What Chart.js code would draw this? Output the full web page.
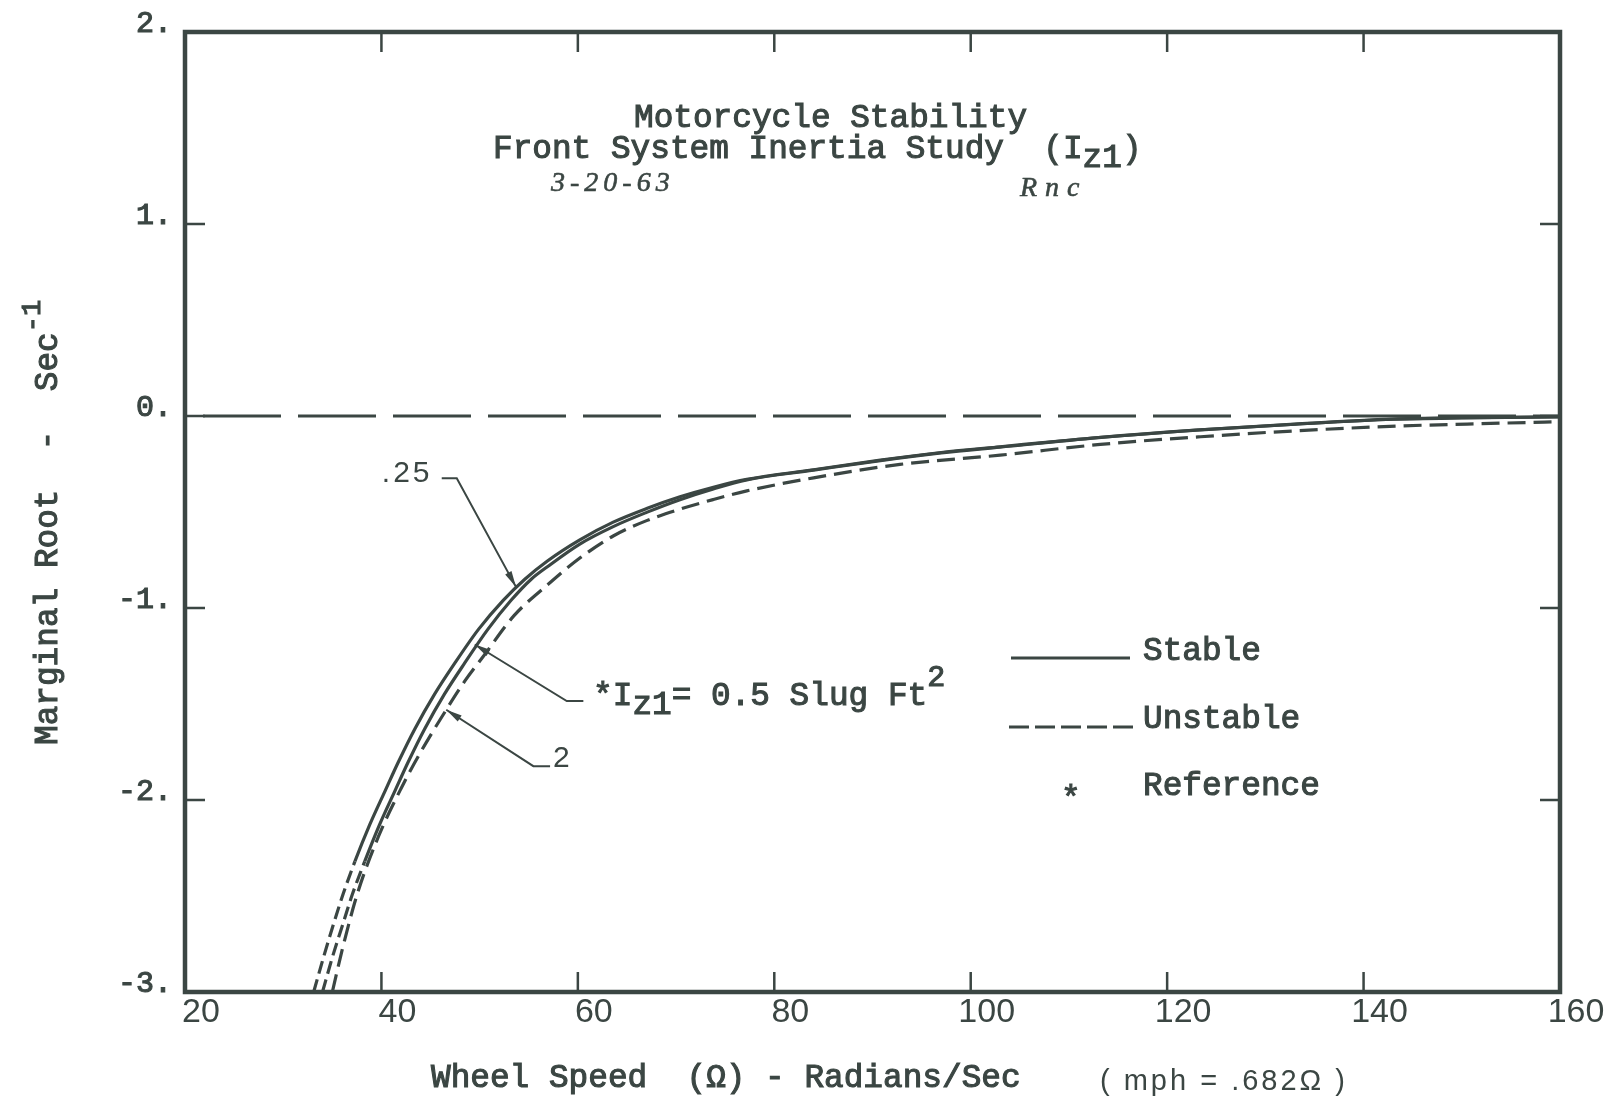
<!DOCTYPE html>
<html lang="en">
<head>
<meta charset="utf-8">
<title>Motorcycle Stability – Front System Inertia Study</title>
<script src="https://cdn.jsdelivr.net/npm/chart.js@4/dist/chart.umd.min.js"></script>
<style>
  html, body { margin: 0; padding: 0; background: #ffffff; }
  canvas { display: block; }
</style>
</head>
<body>
<canvas id="stability" width="1616" height="1099"></canvas>
<script>
// Marginal root (1/sec) against wheel speed (rad/sec) for three front-system inertias I_z1.

// I_z1 = .25 slug ft^2
const speedLight = [33.1, 34.1, 35.1, 36.1, 37.3, 38.8, 40.4, 41.7, 43.4, 45.4, 47.5, 49.9, 52.4, 54.6, 56.9,
  60.2, 63.6, 67.0, 70.4, 73.8, 77.2, 84.0, 90.8, 97.0, 103.0, 113.0, 123.0, 133.0, 143.0, 150.0, 160.0];
const rootLight = [-3.00, -2.82, -2.65, -2.49, -2.32, -2.13, -1.95, -1.805, -1.63, -1.45, -1.285, -1.11, -0.96, -0.85, -0.755,
  -0.645, -0.553, -0.482, -0.421, -0.371, -0.33, -0.28, -0.23, -0.19, -0.16, -0.112, -0.073, -0.042, -0.016, -0.009, -0.004];

// I_z1 = 0.5 slug ft^2 (reference)
const speedRef = [34.0, 35.0, 36.05, 37.05, 38.3, 39.8, 41.4, 42.7, 44.4, 46.4, 48.5, 50.85, 53.2, 55.25, 56.9,
  60.2, 63.6, 67.0, 70.4, 73.8, 77.2, 84.0, 90.8, 97.0, 103.0, 113.0, 123.0, 133.0, 143.0, 150.0, 160.0];
const rootRef = [-3.00, -2.82, -2.65, -2.49, -2.32, -2.13, -1.95, -1.805, -1.63, -1.45, -1.285, -1.11, -0.96, -0.85, -0.785,
  -0.667, -0.576, -0.502, -0.436, -0.380, -0.333, -0.282, -0.232, -0.192, -0.162, -0.113, -0.074, -0.043, -0.017, -0.010, -0.005];

// I_z1 = 2 slug ft^2
const speedHeavy = [35.0, 36.1, 37.6, 39.7, 42.0, 44.0, 46.6, 48.5, 50.4, 53.5, 56.9, 60.2, 63.6, 67.0, 70.4,
  73.8, 77.2, 84.0, 92.8, 103.0, 113.2, 123.4, 133.5, 143.7, 152.0, 160.0];
const rootHeavy = [-3.00, -2.76, -2.48, -2.19, -1.94, -1.75, -1.53, -1.38, -1.25, -1.04, -0.88, -0.74, -0.625, -0.545, -0.485,
  -0.435, -0.39, -0.322, -0.252, -0.204, -0.148, -0.108, -0.076, -0.052, -0.040, -0.030];

// neutral-stability line
const speedZero = [20, 160];
const rootZero = [0, 0];

const speedTicks = [20, 40, 60, 80, 100, 120, 140, 160];
const rootTicks = [2, 1, 0, -1, -2, -3];
const rootTickLabels = ['2.', '1.', '0.', '-1.', '-2.', '-3.'];

// below this root the .25 and 0.5 branches are unstable
const stableLimit = -2.3;

// ---------------------------------------------------------------- styling
const ink = '#3b4643';
const typeFace = '"Liberation Mono", "DejaVu Sans Mono", monospace';
const letterFace = '"Liberation Sans", "DejaVu Sans", sans-serif';
const handFace = '"Liberation Serif", "DejaVu Serif", serif';
const typeFont = size => `${size}px ${typeFace}`;
const letterFont = size => `${size}px ${letterFace}`;
const handFont = size => `italic ${size}px ${handFace}`;

const curveWidth = 3.2;
const unstableDash = [13, 6];
const heavyDash = [18, 8];
const tickLen = 20;
const typeInk = 1.1;   // extra stroke that gives the typed glyphs their weight

// leaders from the inertia labels to their curves (value coordinates)
const callouts = [
  { tip: [53.7, -0.89], bend: [47.67, -0.324], end: [46.14, -0.324] },
  { tip: [49.5, -1.19], bend: [58.87, -1.485], end: [60.56, -1.485] },
  { tip: [46.6, -1.53], bend: [55.47, -1.824], end: [57.17, -1.824] }
];

const toPoints = (xs, ys) => xs.map((v, i) => ({ x: v, y: ys[i] }));
const isUnstable = ctx => Math.max(ctx.p0.parsed.y, ctx.p1.parsed.y) <= stableLimit + 1e-9;

function drawRuns(ctx, runs, x, y) {
  ctx.textAlign = 'left';
  ctx.textBaseline = 'alphabetic';
  let cx = x;
  for (const r of runs) {
    ctx.font = r.font;
    ctx.letterSpacing = r.spacing || '0px';
    ctx.fillText(r.t, cx, y + (r.dy || 0));
    if (r.weight) {
      ctx.lineWidth = r.weight;
      ctx.strokeText(r.t, cx, y + (r.dy || 0));
    }
    cx += ctx.measureText(r.t).width;
  }
  ctx.letterSpacing = '0px';
}

function arrowHead(ctx, from, to) {
  const a = Math.atan2(to[1] - from[1], to[0] - from[0]);
  const len = 16, half = 3.6;
  const bx = to[0] - len * Math.cos(a), by = to[1] - len * Math.sin(a);
  ctx.beginPath();
  ctx.moveTo(to[0], to[1]);
  ctx.lineTo(bx + half * Math.sin(a), by - half * Math.cos(a));
  ctx.lineTo(bx - half * Math.sin(a), by + half * Math.cos(a));
  ctx.closePath();
  ctx.fill();
}

const T = (t, extra) => Object.assign({ t, font: typeFont(32.75), weight: typeInk }, extra || {});

const paperPlugin = {
  id: 'paper',
  afterDatasetsDraw(chart) {
    const { ctx, chartArea: a, scales: { x, y } } = chart;
    const P = v => [x.getPixelForValue(v[0]), y.getPixelForValue(v[1])];
    ctx.save();
    ctx.strokeStyle = ink;
    ctx.fillStyle = ink;
    ctx.lineCap = 'butt';

    // inward tick marks on all four sides
    ctx.lineWidth = 2.5;
    ctx.beginPath();
    speedTicks.slice(1, -1).forEach(v => {
      const p = x.getPixelForValue(v);
      ctx.moveTo(p, a.bottom); ctx.lineTo(p, a.bottom - tickLen);
      ctx.moveTo(p, a.top); ctx.lineTo(p, a.top + tickLen);
    });
    rootTicks.slice(1, -1).forEach(v => {
      const p = y.getPixelForValue(v);
      ctx.moveTo(a.left, p); ctx.lineTo(a.left + tickLen, p);
      ctx.moveTo(a.right, p); ctx.lineTo(a.right - tickLen, p);
    });
    ctx.stroke();

    // plot frame
    ctx.lineWidth = 4.5;
    ctx.strokeRect(a.left, a.top, a.right - a.left, a.bottom - a.top);

    // leaders with arrow heads
    ctx.lineWidth = 2;
    callouts.forEach(c => {
      const t = P(c.tip), b = P(c.bend), e = P(c.end);
      ctx.beginPath();
      ctx.moveTo(e[0], e[1]); ctx.lineTo(b[0], b[1]); ctx.lineTo(t[0], t[1]);
      ctx.stroke();
      arrowHead(ctx, b, t);
    });

    // inertia labels
    const l25 = P([45.2, -0.346]);
    ctx.font = letterFont(30);
    ctx.letterSpacing = '3px';
    ctx.textAlign = 'right';
    ctx.textBaseline = 'alphabetic';
    ctx.fillText('.25', l25[0], l25[1]);
    ctx.letterSpacing = '0px';
    const l2 = P([57.47, -1.829]);
    ctx.textAlign = 'left';
    ctx.font = letterFont(30);
    ctx.fillText('2', l2[0], l2[1]);
    const lRef = P([61.55, -1.506]);
    drawRuns(ctx, [
      T('*I'),
      T('z1', { dy: 9 }),
      T('= 0.5 Slug Ft'),
      T('2', { font: typeFont(30), dy: -19 })
    ], lRef[0], lRef[1]);

    // key
    ctx.lineWidth = 3.2;
    ctx.beginPath(); ctx.moveTo(1011, 658); ctx.lineTo(1130, 658); ctx.stroke();
    ctx.setLineDash([20, 6]);
    ctx.beginPath(); ctx.moveTo(1009, 727); ctx.lineTo(1133, 727); ctx.stroke();
    ctx.setLineDash([]);
    drawRuns(ctx, [T('Stable')], 1143, 660);
    drawRuns(ctx, [T('Unstable')], 1143, 728);
    drawRuns(ctx, [T('*')], 1061, 808);
    drawRuns(ctx, [T('Reference')], 1143, 795);

    // heading
    drawRuns(ctx, [T('Motorcycle Stability')], 634, 127);
    drawRuns(ctx, [T('Front System Inertia Study  (I'), T('z1', { dy: 9 }), T(')')], 493, 158);
    drawRuns(ctx, [{ t: '3-20-63', font: handFont(28), spacing: '5px', weight: 0.6 }], 551, 191);
    drawRuns(ctx, [{ t: 'Rnc', font: handFont(28), spacing: '8px', weight: 0.6 }], 1020, 196);

    // axis titles
    drawRuns(ctx, [T('Wheel Speed  (\u03A9) - Radians/Sec')], 431, 1087);
    drawRuns(ctx, [{ t: '( mph = .682\u03A9 )', font: letterFont(29), spacing: '3px' }], 1100, 1090);

    ctx.translate(57, 745);
    ctx.rotate(-Math.PI / 2);
    drawRuns(ctx, [T('Marginal Root  -  Sec'), T('-1', { font: typeFont(27), dy: -17 })], 0, 0);
    ctx.restore();
  }
};

new Chart(document.getElementById('stability'), {
  type: 'scatter',
  data: {
    datasets: [
      {
        label: 'Neutral', data: toPoints(speedZero, rootZero), showLine: true,
        borderColor: ink, borderWidth: 3, pointRadius: 0,
        borderDash: [78, 17], borderDashOffset: 77
      },
      {
        label: 'I_z1 = .25', data: toPoints(speedLight, rootLight), showLine: true,
        borderColor: ink, borderWidth: curveWidth, pointRadius: 0, cubicInterpolationMode: 'monotone',
        segment: { borderDash: ctx => isUnstable(ctx) ? unstableDash : undefined }
      },
      {
        label: 'I_z1 = 0.5', data: toPoints(speedRef, rootRef), showLine: true,
        borderColor: ink, borderWidth: curveWidth, pointRadius: 0, cubicInterpolationMode: 'monotone',
        segment: { borderDash: ctx => isUnstable(ctx) ? unstableDash : undefined }
      },
      {
        label: 'I_z1 = 2', data: toPoints(speedHeavy, rootHeavy), showLine: true,
        borderColor: ink, borderWidth: curveWidth, pointRadius: 0, cubicInterpolationMode: 'monotone',
        borderDash: heavyDash
      }
    ]
  },
  options: {
    responsive: false,
    animation: false,
    devicePixelRatio: 1,
    layout: { padding: { top: 32, right: 56, left: 0, bottom: 0 } },
    plugins: { legend: { display: false }, tooltip: { enabled: false }, title: { display: false } },
    scales: {
      x: {
        type: 'linear', min: 20, max: 160,
        afterBuildTicks: s => { s.ticks = speedTicks.map(v => ({ value: v })); },
        afterFit: s => { s.height = 107; },
        grid: { display: false, drawTicks: false },
        border: { display: false },
        ticks: {
          autoSkip: false, maxRotation: 0, minRotation: 0, padding: 0, labelOffset: 16,
          color: ink, font: { family: letterFace, size: 34 }
        }
      },
      y: {
        type: 'linear', min: -3, max: 2,
        afterBuildTicks: s => { s.ticks = rootTicks.map(v => ({ value: v })); },
        afterFit: s => { s.width = 185; },
        grid: { display: false, drawTicks: false },
        border: { display: false },
        ticks: {
          autoSkip: false, padding: 13, labelOffset: -8,
          color: ink, font: { family: typeFace, size: 30 },
          textStrokeColor: ink, textStrokeWidth: 1.1,
          callback: v => rootTickLabels[rootTicks.indexOf(v)]
        }
      }
    }
  },
  plugins: [paperPlugin]
});
</script>
</body>
</html>
